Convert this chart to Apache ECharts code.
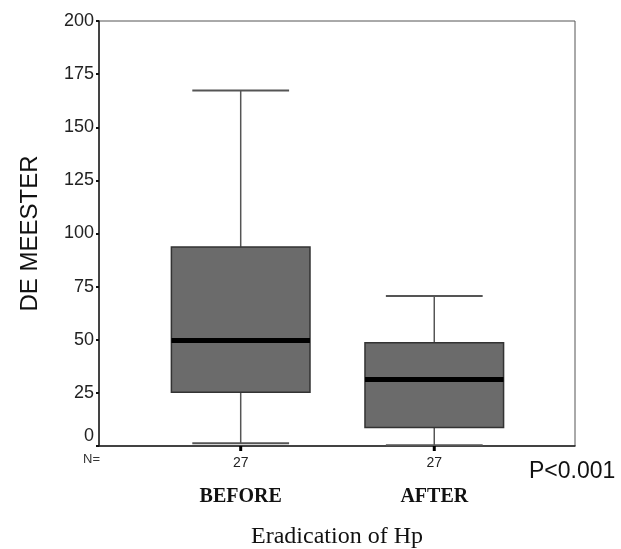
<!DOCTYPE html>
<html>
<head>
<meta charset="utf-8">
<script src="https://cdn.jsdelivr.net/npm/echarts@6/dist/echarts.min.js"></script>
<style>
  html, body { margin: 0; padding: 0; background: #fff; }
  #chart { width: 621px; height: 549px; }
</style>
</head>
<body>
<div id="chart"></div>
<script>
// ---- data ----
const categories = ['BEFORE', 'AFTER'];
const lows    = [1.3, 0.4];
const q1s     = [25.3, 8.7];
const medians = [49.7, 31.3];
const q3s     = [93.7, 48.6];
const highs   = [167.3, 70.6];
const counts  = [27, 27];
const yTicks  = [0, 25, 50, 75, 100, 125, 150, 175, 200];

const seriesData = categories.map((c, i) => [i, lows[i], q1s[i], medians[i], q3s[i], highs[i], counts[i]]);

const chart = echarts.init(document.getElementById('chart'), null, { renderer: 'canvas' });

function renderBox(params, api) {
  const x = api.value(0);
  const unit = api.size([1, 0])[0];
  const hw = unit * 0.358;
  const cw = unit * 0.25;
  const pLow = api.coord([x, api.value(1)]);
  const pQ1 = api.coord([x, api.value(2)]);
  const pMed = api.coord([x, api.value(3)]);
  const pQ3 = api.coord([x, api.value(4)]);
  const pHigh = api.coord([x, api.value(5)]);
  const pZero = api.coord([x, 0]);
  const cx = pMed[0];
  const whisker = { stroke: '#555', lineWidth: 1.5 };
  return {
    type: 'group',
    children: [
      { type: 'line', shape: { x1: cx, y1: pHigh[1], x2: cx, y2: pQ3[1] }, style: whisker },
      { type: 'line', shape: { x1: cx, y1: pQ1[1], x2: cx, y2: pLow[1] }, style: whisker },
      { type: 'line', shape: { x1: cx - cw, y1: pHigh[1], x2: cx + cw, y2: pHigh[1] }, style: { stroke: '#555', lineWidth: 2 } },
      { type: 'line', shape: { x1: cx - cw, y1: pLow[1], x2: cx + cw, y2: pLow[1] }, style: { stroke: '#555', lineWidth: 2 } },
      { type: 'rect', shape: { x: cx - hw, y: pQ3[1], width: hw * 2, height: pQ1[1] - pQ3[1] },
        style: { fill: '#6b6b6b', stroke: '#333', lineWidth: 1.5 } },
      { type: 'line', shape: { x1: cx - hw, y1: pMed[1], x2: cx + hw, y2: pMed[1] }, style: { stroke: '#000', lineWidth: 5 } },
      { type: 'line', shape: { x1: cx, y1: pZero[1], x2: cx, y2: pZero[1] + 5 }, style: { stroke: '#000', lineWidth: 3 } },
      { type: 'text', style: { text: String(api.value(6)), x: cx, y: pZero[1] + 17, align: 'center', verticalAlign: 'middle',
        fontSize: 14, fontFamily: 'Liberation Sans, Arial, sans-serif', fill: '#222' } },
      { type: 'text', style: { text: categories[params.dataIndex], x: cx, y: pZero[1] + 51, align: 'center', verticalAlign: 'middle',
        fontSize: 20, fontWeight: 'bold', fontFamily: 'Liberation Serif, Times New Roman, serif', fill: '#111' } }
    ]
  };
}

const labelFont = { fontSize: 18, fontFamily: 'Liberation Sans, Arial, sans-serif', color: '#222' };

const option = {
  animation: false,
  backgroundColor: '#fff',
  grid: { left: 99, right: 46, top: 21, bottom: 103, show: true, borderColor: '#555', borderWidth: 1,
          backgroundColor: 'transparent', outerBoundsMode: 'none', containLabel: false },
  xAxis: {
    type: 'value', min: -0.732, max: 1.727,
    axisLine: { show: true, onZero: false, lineStyle: { color: '#222', width: 1.5 } },
    axisTick: { show: false }, axisLabel: { show: false }, splitLine: { show: false },
    name: 'Eradication of Hp', nameLocation: 'middle', nameGap: 79,
    nameTextStyle: { fontSize: 24, fontFamily: 'Liberation Serif, Times New Roman, serif', color: '#111' }
  },
  yAxis: {
    type: 'value', min: yTicks[0], max: yTicks[yTicks.length - 1], interval: yTicks[1] - yTicks[0],
    axisLine: { show: true, onZero: false, lineStyle: { color: '#222', width: 1.5 } },
    axisTick: { show: true, length: 3, lineStyle: { color: '#111', width: 2 } },
    axisLabel: Object.assign({
      margin: 5,
      formatter: v => (v === 0 ? '{z|0}' : String(v)),
      rich: { z: Object.assign({ padding: [0, 0, 20, 0] }, labelFont) }
    }, labelFont),
    splitLine: { show: false },
    name: 'DE MEESTER', nameLocation: 'middle', nameGap: 57, nameRotate: 90,
    nameTextStyle: { fontSize: 24, fontFamily: 'Liberation Sans, Arial, sans-serif', color: '#111' }
  },
  graphic: [
    { type: 'text', left: 83, top: 453, style: { text: 'N=', fontSize: 13, fontFamily: 'Liberation Sans, Arial, sans-serif', fill: '#333' } },
    { type: 'text', x: 529, y: 472, style: { text: 'P<0.001', fontSize: 23, fontFamily: 'Liberation Sans, Arial, sans-serif', fill: '#111', verticalAlign: 'middle' } }
  ],
  series: [{
    type: 'custom',
    renderItem: renderBox,
    data: seriesData,
    encode: { x: 0, y: [1, 2, 3, 4, 5] },
    clip: false
  }]
};
chart.setOption(option);
</script>
</body>
</html>
